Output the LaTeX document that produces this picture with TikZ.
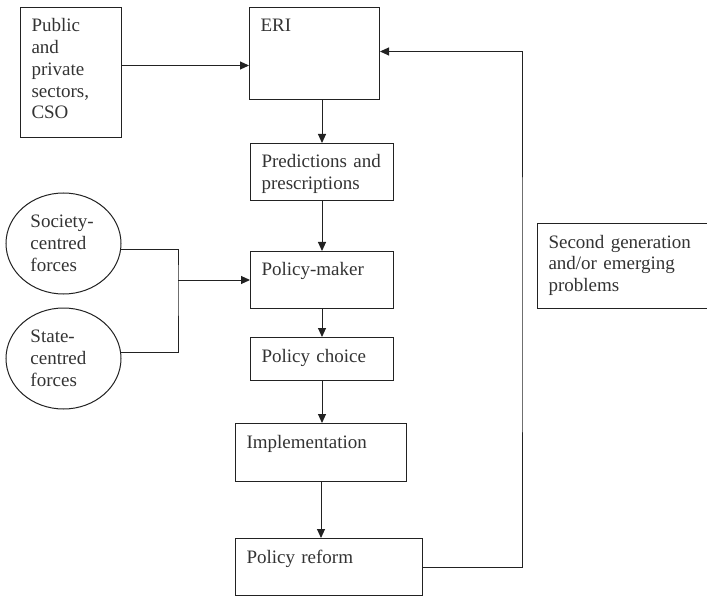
\documentclass[tikz,border=0pt]{standalone}
\usepackage{fontspec}
\setmainfont{Liberation Serif}
\usepackage{xcolor}
\definecolor{inkline}{HTML}{222222}
\definecolor{inktext}{HTML}{333333}
\usetikzlibrary{arrows.meta,positioning,shapes.geometric}

\begin{document}
\begin{tikzpicture}[x=1pt,y=-1pt,line width=1pt,inkline,
  stagebox/.style={draw,anchor=north west,align=left,inner xsep=11pt,inner ysep=0pt,
    text height=24.5pt,text=inktext,font=\fontsize{19}{21.7}\selectfont},
  force/.style={draw,ellipse,minimum width=115pt,minimum height=101pt,inner sep=0pt,
    text width=66pt,align=left,text=inktext,font=\fontsize{19}{21.7}\selectfont},
  flow/.style={-{Triangle[length=9pt,width=8pt]}}]
  \useasboundingbox (0,0) rectangle (707,596);
  % Main chain
  \node[stagebox,text width=79pt,text depth=105.5pt] (pub) at (20,7) {Public\\and\\private\\sectors,\\CSO};
  \node[stagebox,text width=108pt,text depth=67.5pt] (eri) at (249,7) {ERI};
  \node[stagebox,text width=121pt,text depth=32.5pt] (pred) at (250,143) {Predictions and\\prescriptions};
  \node[stagebox,text width=121pt,text depth=32.5pt] (pm) at (250,251) {Policy-maker};
  \node[stagebox,text width=121pt,text depth=18.5pt] (pc) at (250,337) {Policy choice};
  \node[stagebox,text width=149pt,text depth=33.5pt] (impl) at (235,423) {Implementation};
  \node[stagebox,text width=165pt,text depth=32.5pt] (reform) at (235,538) {Policy reform};
  \node[stagebox,text width=151pt,text depth=60.5pt] (second) at (537,223) {Second generation\\and/or emerging\\problems};
  % Forces
  \node[force] (soc) at (63.5,243.5) {Society-\\centred\\forces};
  \node[force] (state) at (63.5,358.5) {State-\\centred\\forces};
  \coordinate (jn) at (178,280);
  \coordinate (fb) at (522,300);
  % Connectors
  \draw[flow] ([yshift=7pt]pub.east) -- ([yshift=7pt]pub.east -| eri.west);
  \draw[flow] (pred.north |- eri.south) -- (pred.north);
  \draw[flow] (pred.south) -- (pm.north);
  \draw[flow] (pm.south) -- (pc.north);
  \draw[flow] (pc.south) -- (pc.south |- impl.north);
  \draw[flow] (impl.south) -- (impl.south |- reform.north);
  \draw (soc.-6.5) -| (jn) |- (state.6.5);
  \draw[flow] (jn) -- (jn -| pm.west);
  \draw[flow] (reform.east) -| (fb) |- ([yshift=2pt]eri.east);
\end{tikzpicture}
\end{document}
